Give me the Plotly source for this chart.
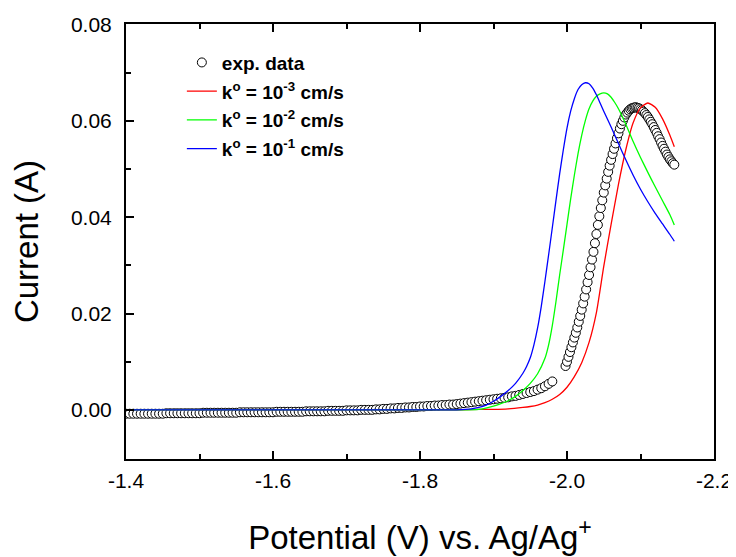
import plotly.graph_objects as go

# ---------------- data ----------------
# experimental data, lower branch (potential V, current A)
exp_x_low = [-1.400, -1.405, -1.410, -1.415, -1.420, -1.425, -1.430, -1.435, -1.440, -1.445, -1.450,
             -1.455, -1.460, -1.465, -1.470, -1.475, -1.480, -1.485, -1.490, -1.495, -1.500,
             -1.505, -1.510, -1.515, -1.520, -1.525, -1.530, -1.535, -1.540, -1.545, -1.550,
             -1.555, -1.560, -1.565, -1.570, -1.575, -1.580, -1.585, -1.590, -1.595, -1.600,
             -1.605, -1.610, -1.615, -1.620, -1.625, -1.630, -1.635, -1.640,
             -1.645, -1.650, -1.655, -1.660, -1.665, -1.670,
             -1.675, -1.680, -1.685, -1.690, -1.695,
             -1.700, -1.705, -1.710, -1.715,
             -1.720, -1.725, -1.730, -1.735,
             -1.740, -1.745, -1.750, -1.755, -1.760, -1.765, -1.770, -1.775, -1.780, -1.785, -1.790,
             -1.795, -1.800, -1.805, -1.810, -1.815, -1.820, -1.825, -1.830, -1.835, -1.840, -1.845,
             -1.850, -1.855, -1.860, -1.865, -1.870, -1.875, -1.880, -1.885, -1.890, -1.895, -1.900,
             -1.905, -1.910, -1.915, -1.920,
             -1.925, -1.930, -1.935, -1.940, -1.945, -1.950, -1.955, -1.960, -1.965, -1.970, -1.975, -1.980]
exp_y_low = [
    -0.0008, -0.0008, -0.0008, -0.0008, -0.0008, -0.0008, -0.0008, -0.0008, -0.0008, -0.0008, -0.0008,
    -0.0007, -0.0007, -0.0007, -0.0007, -0.0007, -0.0007, -0.0007, -0.0007, -0.0007, -0.0007,
    -0.0006, -0.0006, -0.0006, -0.0006, -0.0006, -0.0006, -0.0006, -0.0006, -0.0006, -0.0006,
    -0.0005, -0.0005, -0.0005, -0.0005, -0.0005, -0.0005, -0.0005, -0.0005, -0.0005, -0.0005,
    -0.0004, -0.0004, -0.0004, -0.0004, -0.0004, -0.0004, -0.0004, -0.0004,
    -0.0003, -0.0003, -0.0003, -0.0003, -0.0003, -0.0003,
    -0.0002, -0.0002, -0.0002, -0.0002, -0.0002,
    -0.0001, -0.0001, -0.0001, -0.0001,
    0.0000, 0.0000, 0.0000, 0.0000,
    0.0001, 0.0001, 0.0002, 0.0002, 0.0003, 0.0003, 0.0004, 0.0004, 0.0005, 0.0005, 0.0006,
    0.0006, 0.0007, 0.0007, 0.0008, 0.0008, 0.0009, 0.0009, 0.0010, 0.0010, 0.0011, 0.0011,
    0.0012, 0.0013, 0.0014, 0.0015, 0.0016, 0.0017, 0.0018, 0.0019, 0.0020, 0.0021, 0.0022,
    0.0023, 0.0024, 0.0025, 0.0026,
    0.0028, 0.0029, 0.0031, 0.0033, 0.0035, 0.0037, 0.0039, 0.0042, 0.0045, 0.0049, 0.0054, 0.0059]

# experimental data, upper branch
exp_x_high = [-1.998, -2.000, -2.002, -2.004, -2.006, -2.008, -2.010, -2.012, -2.014, -2.016,
              -2.018, -2.020, -2.022, -2.024, -2.026, -2.028, -2.030, -2.032, -2.034, -2.036,
              -2.038, -2.040, -2.042, -2.044, -2.046, -2.048, -2.050, -2.052, -2.054, -2.056,
              -2.058, -2.060, -2.062, -2.064, -2.066, -2.068, -2.070, -2.072, -2.074, -2.076,
              -2.078, -2.080, -2.082, -2.084, -2.086, -2.088, -2.090, -2.092, -2.094, -2.096,
              -2.098, -2.100, -2.102, -2.104, -2.106, -2.108, -2.110, -2.112, -2.114, -2.116,
              -2.118, -2.120, -2.122, -2.124, -2.126, -2.128, -2.130, -2.132, -2.134, -2.136,
              -2.138, -2.140, -2.142, -2.144, -2.146]
exp_y_high = [0.0091, 0.0100, 0.0110, 0.0120, 0.0130, 0.0140, 0.0150, 0.0160, 0.0171, 0.0183,
              0.0195, 0.0208, 0.0221, 0.0235, 0.0250, 0.0265, 0.0280, 0.0296, 0.0312, 0.0328,
              0.0346, 0.0365, 0.0384, 0.0402, 0.0419, 0.0435, 0.0451, 0.0466, 0.0480, 0.0494,
              0.0507, 0.0519, 0.0531, 0.0542, 0.0553, 0.0564, 0.0574, 0.0584, 0.0593, 0.0600,
              0.0607, 0.0613, 0.0617, 0.0621, 0.0624, 0.0626, 0.0627, 0.0628, 0.0628, 0.0627,
              0.0626, 0.0624, 0.0622, 0.0619, 0.0616, 0.0612, 0.0608, 0.0603, 0.0598, 0.0593,
              0.0587, 0.0581, 0.0575, 0.0568, 0.0562, 0.0555, 0.0548, 0.0542, 0.0536, 0.0530,
              0.0525, 0.0520, 0.0516, 0.0512, 0.0509]

# simulation k0 = 1e-3 cm/s
sim3_x = [-1.400, -1.800, -1.850, -1.880, -1.900, -1.920, -1.940, -1.950, -1.960, -1.970, -1.980,
          -1.990, -2.000, -2.010, -2.020, -2.030, -2.040, -2.050, -2.060, -2.070, -2.080, -2.090,
          -2.100, -2.110, -2.120, -2.130, -2.140, -2.146]
sim3_y = [0.0000, 0.0000, 0.0000, 0.0001, 0.0001, 0.0002, 0.0005, 0.0007, 0.0010, 0.0015, 0.0022,
          0.0032, 0.0047, 0.0069, 0.0098, 0.0140, 0.0202, 0.0298, 0.0385, 0.0468, 0.0540, 0.0596,
          0.0627, 0.0637, 0.0628, 0.0604, 0.0570, 0.0546]

# simulation k0 = 1e-2 cm/s
sim2_x = [-1.400, -1.800, -1.850, -1.880, -1.900, -1.910, -1.920, -1.930, -1.940, -1.950, -1.960,
          -1.970, -1.975, -1.980, -1.985, -1.990, -1.995, -2.000, -2.005, -2.010, -2.015, -2.020,
          -2.025, -2.030, -2.035, -2.040, -2.045, -2.050, -2.055, -2.060, -2.065, -2.070, -2.080,
          -2.090, -2.100, -2.110, -2.120, -2.130, -2.140, -2.146]
sim2_y = [0.0000, 0.0000, 0.0000, 0.0001, 0.0008, 0.0013, 0.0019, 0.0028, 0.0040, 0.0055, 0.0075,
          0.0107, 0.0135, 0.0175, 0.0225, 0.0280, 0.0332, 0.0385, 0.0438, 0.0487, 0.0532, 0.0570,
          0.0601, 0.0625, 0.0641, 0.0651, 0.0656, 0.0658, 0.0656, 0.0649, 0.0638, 0.0625, 0.0593,
          0.0557, 0.0524, 0.0493, 0.0463, 0.0434, 0.0405, 0.0384]

# simulation k0 = 1e-1 cm/s
sim1_x = [-1.400, -1.800, -1.850, -1.870, -1.880, -1.890, -1.900, -1.910, -1.920, -1.930, -1.940,
          -1.945, -1.950, -1.955, -1.960, -1.965, -1.970, -1.975, -1.980, -1.985, -1.990, -1.995,
          -2.000, -2.005, -2.010, -2.015, -2.020, -2.025, -2.030, -2.035, -2.040, -2.045, -2.050,
          -2.060, -2.070, -2.080, -2.090, -2.100, -2.110, -2.120, -2.130, -2.140, -2.146]
sim1_y = [0.0000, 0.0000, 0.0000, 0.0002, 0.0005, 0.0010, 0.0018, 0.0028, 0.0040, 0.0055, 0.0076,
          0.0090, 0.0108, 0.0135, 0.0170, 0.0215, 0.0267, 0.0322, 0.0378, 0.0435, 0.0490, 0.0540,
          0.0585, 0.0620, 0.0646, 0.0665, 0.0675, 0.0679, 0.0677, 0.0668, 0.0654, 0.0637, 0.0620,
          0.0587, 0.0553, 0.0519, 0.0487, 0.0458, 0.0432, 0.0408, 0.0386, 0.0364, 0.0350]

x_tickvals = [-1.4, -1.6, -1.8, -2.0, -2.2]
x_ticktext = ["-1.4", "-1.6", "-1.8", "-2.0", "-2.2"]
y_tickvals = [0.00, 0.02, 0.04, 0.06, 0.08]
y_ticktext = ["0.00", "0.02", "0.04", "0.06", "0.08"]

names = ["<b>exp. data</b>",
         "<b>k<sup>o</sup> = 10<sup>-3</sup> cm/s</b>",
         "<b>k<sup>o</sup> = 10<sup>-2</sup> cm/s</b>",
         "<b>k<sup>o</sup> = 10<sup>-1</sup> cm/s</b>"]

FONT = "Liberation Sans, Arial, sans-serif"

fig = go.Figure()
fig.add_trace(go.Scatter(
    x=exp_x_low + exp_x_high, y=exp_y_low + exp_y_high, mode="markers", name=names[0],
    legendgroup="g0",
    marker=dict(symbol="circle", size=9, color="white", line=dict(color="black", width=1))))
for i, (xs, ys, col) in enumerate([(sim3_x, sim3_y, "#FF0000"),
                                   (sim2_x, sim2_y, "#00FF00"),
                                   (sim1_x, sim1_y, "#0000FF")]):
    fig.add_trace(go.Scatter(x=xs, y=ys, mode="lines", name=names[i + 1], legendgroup=f"g{i+1}",
                             line=dict(color=col, width=1.3, shape="spline", smoothing=0.6)))

axis_common = dict(showline=True, linecolor="black", linewidth=2, showgrid=False, zeroline=False,
                   ticks="inside", ticklen=8, tickwidth=1.5, tickcolor="black",
                   tickfont=dict(family=FONT, size=21, color="black"))

fig.update_xaxes(range=[-1.4, -2.2], tickvals=x_tickvals, ticktext=x_ticktext, mirror="ticks",
                 minor=dict(ticks="inside", dtick=0.1, tick0=-1.4, ticklen=5, tickwidth=1.5,
                            tickcolor="black", showgrid=False),
                 title=dict(text="Potential (V) vs. Ag/Ag<sup>+</sup>",
                            font=dict(family=FONT, size=33, color="black"), standoff=35),
                 ticklabelstandoff=2, **axis_common)
fig.update_yaxes(range=[-0.0102, 0.0801], tickvals=y_tickvals, ticktext=y_ticktext, mirror=True,
                 minor=dict(ticks="inside", dtick=0.01, tick0=0, ticklen=5, tickwidth=1.5,
                            tickcolor="black", showgrid=False),
                 title=dict(text="Current (A)", font=dict(family=FONT, size=33, color="black"),
                            standoff=27),
                 ticklabelstandoff=8, **axis_common)

# the page body adds an 8 px offset; the figure is sized to fit the 736x557 window
fig.update_layout(
    width=728, height=549,
    margin=dict(l=118, r=22, t=16, b=98, autoexpand=False),
    paper_bgcolor="white", plot_bgcolor="white",
    showlegend=True,
    legend=dict(x=0.095, y=0.955, xanchor="left", yanchor="top", bgcolor="rgba(0,0,0,0)",
                font=dict(family=FONT, size=19, color="black"), tracegroupgap=1,
                itemwidth=30),
)

fig.write_html("out.html")
